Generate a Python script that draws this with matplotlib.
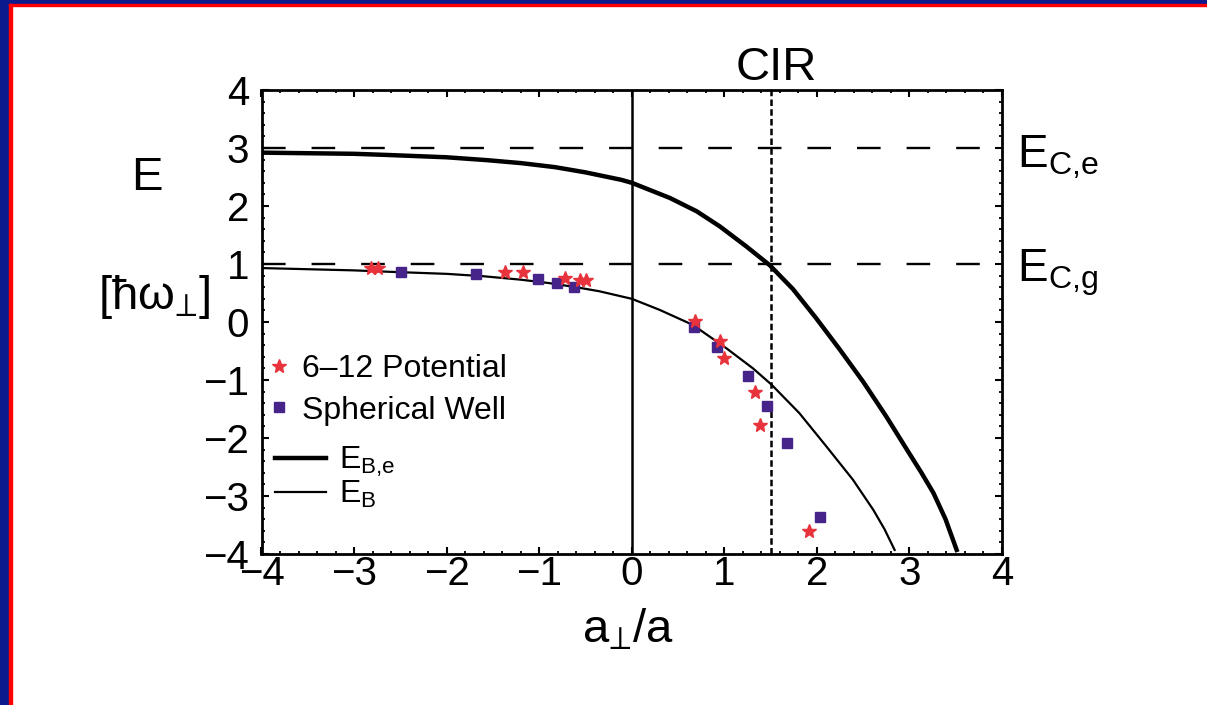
import numpy as np
import matplotlib
matplotlib.use('Agg')
import matplotlib.pyplot as plt
from matplotlib.patches import Rectangle
from matplotlib.lines import Line2D

plt.rcParams['font.family'] = ['Liberation Sans', 'DejaVu Sans']
plt.rcParams['mathtext.fontset'] = 'custom'
plt.rcParams['mathtext.rm'] = 'Liberation Sans'
plt.rcParams['mathtext.fallback'] = 'stixsans'

# thick curve E_B,e
ebe_x = [-4.0, -3.0, -2.64, -2.0, -1.56, -1.2, -0.83, -0.5, -0.11, 0.0, 0.41, 0.70,
         0.95, 1.24, 1.49, 1.74, 1.99, 2.25, 2.50, 2.75, 3.00, 3.13, 3.26, 3.39, 3.51]
ebe_y = [2.92, 2.90, 2.88, 2.84, 2.79, 2.74, 2.67, 2.58, 2.45, 2.40, 2.14, 1.91,
         1.65, 1.30, 0.98, 0.57, 0.07, -0.48, -1.03, -1.63, -2.27, -2.60, -2.95, -3.40, -3.93]

# thin curve E_B
eb_x = [-4.0, -3.0, -2.69, -2.0, -1.61, -1.2, -0.89, -0.6, -0.35, 0.0, 0.30, 0.66,
        1.02, 1.31, 1.51, 1.81, 2.10, 2.39, 2.61, 2.73, 2.84]
eb_y = [0.93, 0.89, 0.87, 0.83, 0.79, 0.73, 0.67, 0.60, 0.53, 0.40, 0.21, -0.05,
        -0.45, -0.80, -1.08, -1.57, -2.14, -2.72, -3.24, -3.57, -3.93]

# 6-12 potential (stars)
lj_x = [-2.82, -2.74, -1.37, -1.18, -0.72, -0.56, -0.49, 0.68, 0.95, 1.00, 1.33, 1.39, 1.92]
lj_y = [0.93, 0.93, 0.87, 0.87, 0.76, 0.73, 0.72, 0.02, -0.33, -0.62, -1.20, -1.78, -3.61]

# spherical well (squares)
sw_x = [-2.49, -1.68, -1.01, -0.81, -0.62, 0.67, 0.92, 1.26, 1.46, 1.68, 2.03]
sw_y = [0.87, 0.83, 0.74, 0.67, 0.61, -0.08, -0.43, -0.93, -1.45, -2.09, -3.36]

E_Ce = 3
E_Cg = 1
x_cir = 1.5

fig = plt.figure(figsize=(12.07, 7.05), dpi=100)

# frame of the slide
W, H = 1207, 705
blue = '#0b1a8c'
fig.patches.append(Rectangle((0, 0), 9 / W, 1, transform=fig.transFigure, color=blue, zorder=0))
fig.patches.append(Rectangle((0, 1 - 4 / H), 1, 4 / H, transform=fig.transFigure, color=blue, zorder=0))
fig.patches.append(Rectangle((9 / W, 0), 3 / W, 1 - 4 / H, transform=fig.transFigure, color='red', zorder=0))
fig.patches.append(Rectangle((9 / W, 1 - 6 / H), 1, 2 / H, transform=fig.transFigure, color='red', zorder=0))

ax = fig.add_axes([261.5 / W, 151 / H, 740.5 / W, 464 / H])
ax.set_xlim(-4, 4)
ax.set_ylim(-4, 4)

ax.axhline(E_Ce, color='black', lw=1.7, dashes=(10, 11))
ax.axhline(E_Cg, color='black', lw=1.7, dashes=(10, 11))
ax.axvline(0, color='black', lw=1.8)
ax.axvline(x_cir, color='black', lw=1.8, dashes=(2.6, 1.3))

ax.plot(ebe_x, ebe_y, color='black', lw=3.2)
ax.plot(eb_x, eb_y, color='black', lw=1.6)
ax.plot(sw_x, sw_y, 's', color='#47248a', ms=7, ls='none')
ax.plot(lj_x, lj_y, '*', color='#e8333c', ms=10.5, ls='none')

ax.set_xticks(range(-4, 5))
ax.set_yticks(range(-4, 5))
ax.set_xticks(np.arange(-4, 4.01, 0.2), minor=True)
ax.set_yticks(np.arange(-4, 4.01, 0.2), minor=True)
ax.tick_params(which='both', direction='in', top=True, right=True, labelsize=29)
ax.tick_params(which='major', length=5, width=1.5)
ax.tick_params(which='minor', length=2.5, width=1.3)
ax.tick_params(axis='x', pad=1)
ax.tick_params(axis='y', pad=9)
for s in ax.spines.values():
    s.set_linewidth(2)

# legends
h1 = [Line2D([], [], marker='*', color='#e8333c', ms=10.5, ls='none'),
      Line2D([], [], marker='s', color='#47248a', ms=7, ls='none')]
leg1 = ax.legend(h1, ['6\u201312 Potential', 'Spherical Well'], loc='upper left',
                 bbox_to_anchor=(0.007, 0.43), frameon=False, fontsize=23,
                 handlelength=0.8, handletextpad=0.3, borderpad=0, borderaxespad=0,
                 labelspacing=0.35)
ax.add_artist(leg1)
h2 = [Line2D([], [], color='black', lw=3.2), Line2D([], [], color='black', lw=1.6)]
ax.legend(h2, [r'$\mathregular{E_{B{,}e}}$', r'$\mathregular{E_{B}}$'], loc='upper left',
          bbox_to_anchor=(0.018, 0.235), frameon=False, fontsize=23,
          handlelength=1.6, handletextpad=0.4, borderpad=0, borderaxespad=0,
          labelspacing=0.0)

ax.text(4.16, 2.66, r'$\mathregular{E_{C{,}e}}$', fontsize=33, va='baseline', clip_on=False)
ax.text(4.16, 0.69, r'$\mathregular{E_{C{,}g}}$', fontsize=33, va='baseline', clip_on=False)
ax.text(1.56, 4.18, 'CIR', fontsize=34, ha='center', va='baseline', clip_on=False)

fig.text(147 / W, 1 - 190 / H, 'E', fontsize=34, ha='center', va='baseline')
fig.text(154 / W, 1 - 297 / H, '[\u0127\u03c9$_{\u22a5}$]', fontsize=34, ha='center', va='center')
fig.text(628 / W, 1 - 642 / H, 'a$_{\u22a5}$/a', fontsize=34, ha='center', va='baseline')

fig.savefig('out.png', dpi=100)
